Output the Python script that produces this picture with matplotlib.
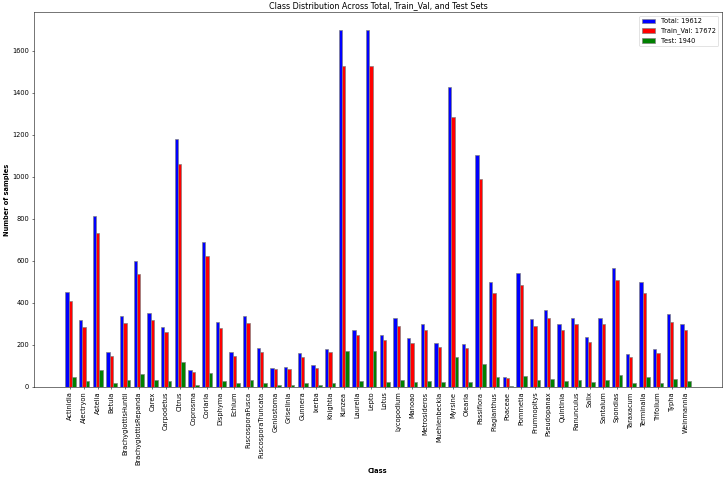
import numpy as np
import matplotlib
matplotlib.use("Agg")
import matplotlib.pyplot as plt

classes = ["Actinidia", "Alectryon", "Astelia", "Betula", "BrachyglottisHuntii",
           "BrachyglottisRepanda", "Carex", "Carpodetus", "Citrus", "Coprosma",
           "Coriaria", "Disphyma", "Echium", "FuscosporaFusca", "FuscosporaTruncata",
           "Geniostoma", "Griselinia", "Gunnera", "Ixerba", "Knightia",
           "Kunzea", "Laurelia", "Lepto", "Lotus", "Lycopodium",
           "Manoao", "Metrosideros", "Muehlenbeckia", "Myrsine", "Olearia",
           "Passiflora", "Plagianthus", "Poaceae", "Pommetia", "Prumnopitys",
           "Pseudopanax", "Quintinia", "Ranunculus", "Salix", "Santalum",
           "Spondias", "Taraxacum", "Terminalia", "Trifolium", "Typha", "Weinmannia"]

total = [452, 318, 814, 164, 337, 597, 352, 286, 1180, 80,
         689, 310, 165, 338, 183, 92, 95, 159, 103, 181,
         1698, 273, 1698, 249, 326, 232, 299, 211, 1426, 203,
         1102, 499, 45, 540, 321, 364, 299, 330, 238, 330,
         567, 156, 499, 181, 346, 299]
train_val = [408, 286, 733, 146, 302, 535, 318, 259, 1060, 70,
             621, 280, 149, 305, 164, 83, 86, 143, 92, 164,
             1529, 246, 1529, 224, 292, 208, 270, 190, 1284, 184,
             992, 449, 40, 486, 289, 329, 270, 297, 214, 297,
             511, 140, 449, 162, 311, 270]
test = [45, 30, 80, 16, 32, 59, 33, 27, 118, 7,
        68, 30, 16, 32, 18, 8, 10, 16, 10, 18,
        169, 27, 169, 24, 32, 24, 29, 21, 141, 21,
        111, 49, 3, 54, 32, 37, 29, 32, 24, 32,
        56, 16, 49, 18, 35, 29]

n_total, n_train, n_test = 19612, 17672, 1940

x = np.arange(len(classes))
w = 0.25

fig, ax = plt.subplots(figsize=(724 / 48, 477 / 48), dpi=48)
ax.bar(x, total, w, color='blue', edgecolor='grey', label=f'Total: {n_total}')
ax.bar(x + w, train_val, w, color='red', edgecolor='grey', label=f'Train_Val: {n_train}')
ax.bar(x + 2 * w, test, w, color='green', edgecolor='grey', label=f'Test: {n_test}')

ax.set_xticks(x + w)
ax.set_xticklabels(classes, rotation=90)
ax.set_xlabel('Class', fontweight='bold')
ax.set_ylabel('Number of samples', fontweight='bold')
ax.set_title('Class Distribution Across Total, Train_Val, and Test Sets')
ax.legend(loc='upper right')

fig.subplots_adjust(left=0.047, right=0.997, top=0.974, bottom=0.189)
fig.savefig('out.png', dpi=48)
